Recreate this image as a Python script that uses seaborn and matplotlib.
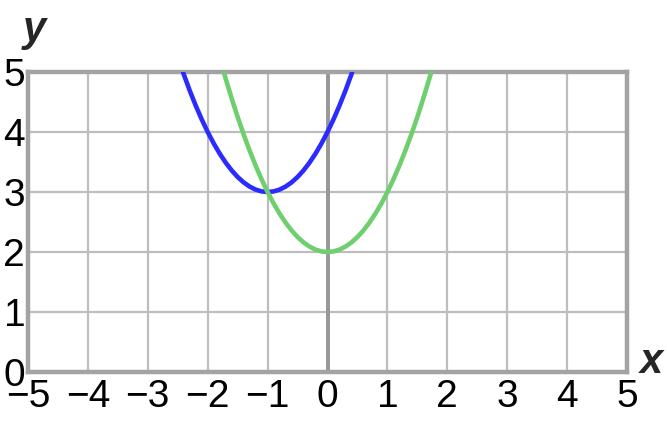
import matplotlib
matplotlib.use("Agg")
import matplotlib.pyplot as plt
import seaborn as sns
import pandas as pd

blue_x = [-2.41, -2.3, -2.2, -2.1, -2.0, -1.9, -1.8, -1.7, -1.6, -1.5, -1.4, -1.3, -1.2, -1.1, -1.0,
          -0.9, -0.8, -0.7, -0.6, -0.5, -0.4, -0.3, -0.2, -0.1, 0.0, 0.1, 0.2, 0.3, 0.41]
blue_y = [4.99, 4.69, 4.44, 4.21, 4.00, 3.81, 3.64, 3.49, 3.36, 3.25, 3.16, 3.09, 3.04, 3.01, 3.00,
          3.01, 3.04, 3.09, 3.16, 3.25, 3.36, 3.49, 3.64, 3.81, 4.00, 4.21, 4.44, 4.69, 4.99]
green_x = [-1.73, -1.6, -1.5, -1.4, -1.3, -1.2, -1.1, -1.0, -0.9, -0.8, -0.7, -0.6, -0.5, -0.4, -0.3, -0.2, -0.1,
           0.0, 0.1, 0.2, 0.3, 0.4, 0.5, 0.6, 0.7, 0.8, 0.9, 1.0, 1.1, 1.2, 1.3, 1.4, 1.5, 1.6, 1.73]
green_y = [4.99, 4.56, 4.25, 3.96, 3.69, 3.44, 3.21, 3.00, 2.81, 2.64, 2.49, 2.36, 2.25, 2.16, 2.09, 2.04, 2.01,
           2.00, 2.01, 2.04, 2.09, 2.16, 2.25, 2.36, 2.49, 2.64, 2.81, 3.00, 3.21, 3.44, 3.69, 3.96, 4.25, 4.56, 4.99]

x_ticks = [-5, -4, -3, -2, -1, 0, 1, 2, 3, 4, 5]
y_ticks = [0, 1, 2, 3, 4, 5]

sns.set_style("white")
plt.rcParams['font.family'] = ['Liberation Sans', 'DejaVu Sans']

fig = plt.figure(figsize=(6.67, 4.21), dpi=100)
ax = fig.add_axes([28 / 667, 49 / 421, 599 / 667, 300 / 421])

blue = pd.DataFrame({"x": blue_x, "y": blue_y})
green = pd.DataFrame({"x": green_x, "y": green_y})
sns.lineplot(data=blue, x="x", y="y", ax=ax, color="#2b2bff", linewidth=3.3, estimator=None, zorder=4)
sns.lineplot(data=green, x="x", y="y", ax=ax, color="#6fcf6f", linewidth=3.3, estimator=None, zorder=5)

ax.set_xlim(-5, 5)
ax.set_ylim(0, 5)
ax.set_xticks(x_ticks)
ax.set_yticks(y_ticks)
ax.set_xticklabels([str(t).replace("-", "\u2212") for t in x_ticks])
ax.set_yticklabels([str(t) for t in y_ticks])
ax.tick_params(length=0, labelsize=28, colors="black")
ax.tick_params(axis="x", pad=5)
ax.tick_params(axis="y", pad=2)
ax.grid(True, color="#bdbdbd", linewidth=1.6, zorder=1)
ax.axvline(0, color="#979797", linewidth=2.8, zorder=2)
for s in ax.spines.values():
    s.set_color("#a3a3a3")
    s.set_linewidth(3.2)
ax.set_xlabel("")
ax.set_ylabel("")

fig.text(34 / 667, 1 - 30 / 421, "y", fontsize=30, fontweight="bold", fontstyle="italic",
         ha="center", va="center")
fig.text(651 / 667, 1 - 362 / 421, "x", fontsize=30, fontweight="bold", fontstyle="italic",
         ha="center", va="center")

fig.savefig("out.png", dpi=100)
